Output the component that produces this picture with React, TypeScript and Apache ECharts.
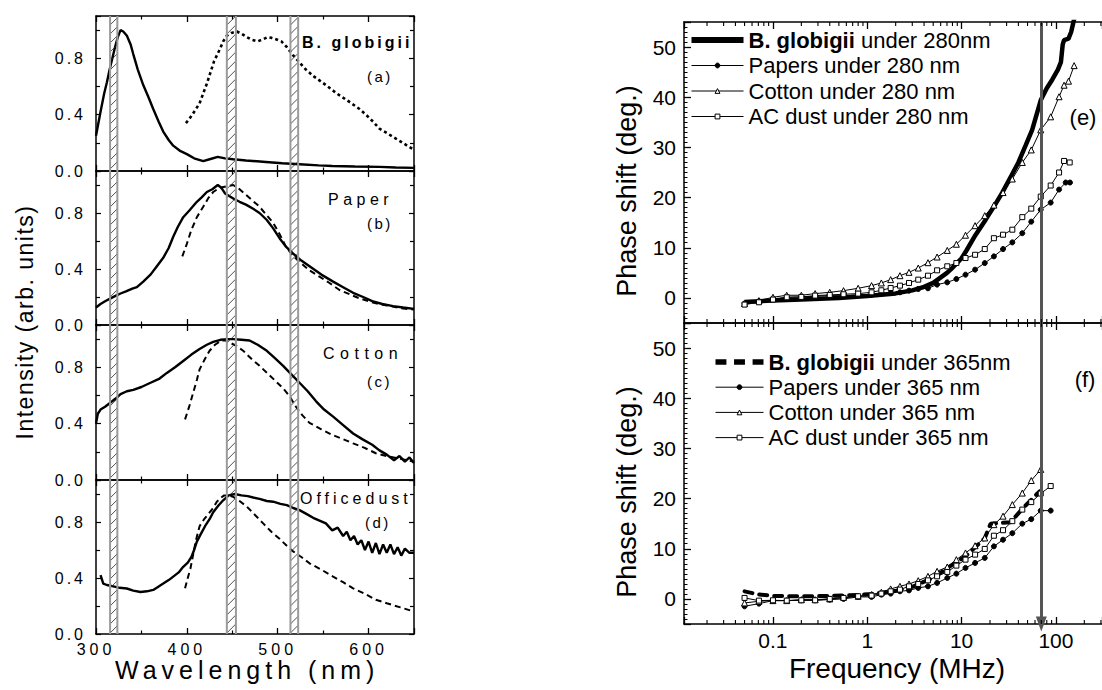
import React, { useEffect, useRef } from 'react';
import * as echarts from 'echarts';

const FONT = 'Arial, "Liberation Sans", Helvetica, sans-serif';

// ---------- Left: emission spectra (wavelength nm, normalized intensity) ----------
const bgSolidWl = [300, 305, 309, 312, 315, 318, 321, 324, 327, 330, 334, 338, 341, 346, 352, 358, 363, 369, 374, 380, 385, 392, 400, 408, 418, 426, 434, 442, 451, 465, 487, 505, 524, 545, 560, 585, 612, 630, 650];
const bgSolidI = [0.25, 0.42, 0.55, 0.63, 0.72, 0.8, 0.88, 0.95, 1.0, 0.99, 0.96, 0.9, 0.83, 0.72, 0.61, 0.52, 0.44, 0.35, 0.28, 0.22, 0.18, 0.145, 0.12, 0.09, 0.07, 0.085, 0.1, 0.09, 0.083, 0.075, 0.064, 0.055, 0.048, 0.04, 0.036, 0.032, 0.029, 0.025, 0.022];
const bgDashWl = [399, 405, 410, 414, 418, 422, 425, 430, 436, 440, 444, 449, 455, 460, 466, 472, 478, 484, 489, 493, 498, 504, 510, 517, 524, 531, 540, 553, 565, 579, 590, 597, 605, 612, 620, 630, 640, 650];
const bgDashI = [0.34, 0.39, 0.44, 0.48, 0.55, 0.62, 0.68, 0.78, 0.86, 0.92, 0.96, 0.98, 0.99, 0.975, 0.95, 0.93, 0.92, 0.935, 0.95, 0.945, 0.935, 0.92, 0.88, 0.82, 0.77, 0.72, 0.67, 0.61, 0.55, 0.49, 0.44, 0.4, 0.35, 0.3, 0.27, 0.23, 0.19, 0.15];

const paperSolidWl = [300, 305, 310, 316, 322, 327, 333, 340, 345, 352, 360, 367, 374, 380, 385, 390, 396, 403, 411, 416, 422, 428, 434, 438, 442, 447, 452, 458, 465, 473, 480, 488, 495, 502, 509, 517, 526, 535, 548, 561, 572, 583, 594, 604, 615, 627, 638, 650];
const paperSolidI = [0.125, 0.15, 0.17, 0.19, 0.21, 0.225, 0.24, 0.26, 0.27, 0.31, 0.36, 0.42, 0.48, 0.55, 0.63, 0.7, 0.77, 0.82, 0.88, 0.91, 0.95, 0.97, 1.0, 0.98, 0.94, 0.92, 0.9, 0.88, 0.86, 0.83, 0.8, 0.75, 0.69, 0.62, 0.56, 0.51, 0.46, 0.42, 0.36, 0.31, 0.27, 0.23, 0.2, 0.17, 0.15, 0.135, 0.125, 0.115];
const paperDashWl = [395, 400, 405, 411, 418, 424, 429, 436, 443, 451, 458, 465, 472, 480, 487, 495, 502, 509, 516, 524, 535, 546, 557, 568, 579, 590, 600, 608, 620, 635, 650];
const paperDashI = [0.49, 0.58, 0.68, 0.77, 0.845, 0.91, 0.95, 0.98, 0.99, 1.0, 0.97, 0.93, 0.89, 0.845, 0.79, 0.73, 0.65, 0.56, 0.5, 0.45, 0.39, 0.345, 0.3, 0.25, 0.22, 0.19, 0.17, 0.155, 0.14, 0.12, 0.11];

const cottonSolidWl = [300, 302, 305, 310, 316, 322, 327, 334, 341, 350, 360, 370, 378, 387, 396, 405, 414, 422, 429, 437, 445, 451, 460, 469, 478, 488, 496, 506, 515, 524, 533, 542, 551, 561, 572, 583, 593, 604, 612, 620, 628, 634, 640, 645, 650];
const cottonSolidI = [0.4, 0.47, 0.5, 0.52, 0.55, 0.58, 0.61, 0.63, 0.64, 0.66, 0.69, 0.72, 0.76, 0.8, 0.845, 0.89, 0.93, 0.96, 0.98, 0.995, 1.0, 1.0, 0.995, 0.99, 0.96, 0.917, 0.87, 0.81, 0.75, 0.69, 0.63, 0.56, 0.5, 0.45, 0.39, 0.33, 0.29, 0.25, 0.21, 0.18, 0.14, 0.17, 0.13, 0.16, 0.12];
const cottonDashWl = [398, 403, 407, 411, 414, 420, 425, 431, 438, 443, 447, 455, 462, 471, 480, 489, 498, 506, 513, 520, 527, 535, 548, 560, 572, 583, 595, 608, 620, 635, 650];
const cottonDashI = [0.43, 0.53, 0.62, 0.71, 0.785, 0.86, 0.917, 0.96, 0.99, 0.99, 0.976, 0.95, 0.917, 0.86, 0.81, 0.755, 0.7, 0.65, 0.595, 0.52, 0.46, 0.405, 0.36, 0.32, 0.29, 0.26, 0.23, 0.19, 0.17, 0.15, 0.13];

const dustSolidWl = [305, 308, 312, 319, 326, 334, 341, 349, 356, 363, 369, 374, 380, 385, 391, 396, 401, 405, 408, 411, 415, 420, 425, 429, 435, 440, 446, 453, 460, 467, 473, 480, 488, 495, 503, 510, 517, 524, 531, 539, 546, 553, 560, 566, 572, 576, 580, 584, 588, 592, 596, 600, 604, 608, 612, 616, 620, 624, 628, 632, 636, 640, 645, 650];
const dustSolidI = [0.42, 0.36, 0.35, 0.34, 0.33, 0.325, 0.31, 0.3, 0.305, 0.315, 0.34, 0.36, 0.385, 0.41, 0.44, 0.48, 0.51, 0.55, 0.6, 0.66, 0.71, 0.77, 0.82, 0.87, 0.92, 0.955, 0.99, 1.0, 0.99, 0.985, 0.975, 0.965, 0.95, 0.945, 0.93, 0.92, 0.9, 0.885, 0.86, 0.83, 0.81, 0.79, 0.74, 0.76, 0.7, 0.73, 0.67, 0.7, 0.64, 0.67, 0.6, 0.66, 0.58, 0.65, 0.57, 0.64, 0.58, 0.64, 0.57, 0.62, 0.56, 0.61, 0.58, 0.58];
const dustDashWl = [398, 401, 404, 407, 410, 414, 419, 424, 429, 433, 437, 441, 446, 451, 458, 466, 475, 484, 493, 502, 510, 517, 526, 535, 548, 561, 572, 583, 595, 608, 620, 635, 650];
const dustDashI = [0.326, 0.4, 0.47, 0.57, 0.67, 0.77, 0.82, 0.86, 0.9, 0.945, 0.97, 0.99, 0.99, 0.98, 0.95, 0.91, 0.85, 0.79, 0.73, 0.68, 0.63, 0.59, 0.55, 0.505, 0.46, 0.41, 0.37, 0.326, 0.29, 0.245, 0.22, 0.19, 0.16];

// hatched wavelength bands [from, to] nm
const bandStart = [315.5, 444, 514];
const bandEnd = [323.5, 454, 522.5];

const panelNames = ['B. globigii', 'Paper', 'Cotton', 'Officedust'];
const panelTags = ['(a)', '(b)', '(c)', '(d)'];

// ---------- Right: phase shift vs frequency ----------
const freqA = [0.05, 0.071, 0.1, 0.14, 0.2, 0.28, 0.4, 0.56, 0.8, 1.11, 1.41, 1.77, 2.22, 2.77, 3.47, 4.4, 5.5, 7.05, 8.8, 11, 13.9, 17.6, 22, 27.5, 34.5, 44, 54.8, 69];

const bg280Freq = [0.05, 0.1, 0.2, 0.5, 1, 2, 3, 4, 5, 7, 8, 10, 11.3, 14, 18, 22, 27, 34, 40, 48, 56, 69, 80, 92, 105, 113, 118, 122, 136, 145, 158];
const bg280 = [-0.8, -0.5, -0.3, 0, 0.4, 0.9, 1.5, 2.2, 3.0, 5.0, 6.0, 7.9, 9.5, 12.5, 15.6, 18.2, 21, 24.5, 27, 30.5, 33.5, 39.4, 41.8, 43.6, 45.5, 47, 50.5, 51.4, 51.7, 53, 56];
const papers280Freq = [...freqA, 88, 108, 127, 141];
const papers280 = [-1.13, -0.67, -0.2, 0.13, 0.2, 0.33, 0.46, 0.46, 0.6, 0.66, 0.86, 0.99, 1.12, 1.45, 1.78, 1.92, 2.65, 3.1, 3.77, 4.63, 5.63, 6.95, 8.28, 9.74, 11.07, 12.9, 15.2, 17.6, 19.0, 21.6, 23.0, 23.0];
const cotton280Freq = [...freqA, 88, 108, 122, 136, 156];
const cotton280 = [-1.13, -0.54, 0.13, 0.53, 0.53, 0.86, 1.12, 1.45, 1.92, 2.45, 2.98, 3.64, 4.43, 5.1, 5.96, 7.02, 8.15, 9.47, 10.7, 12.5, 14.4, 16.4, 18.5, 21.0, 23.7, 27.0, 29.5, 33.5, 36.1, 40.1, 42.4, 43.2, 46.3];
const ac280Freq = [...freqA, 88, 108, 122, 140];
const ac280 = [-1.33, -0.87, -0.33, 0.13, 0.2, 0.46, 0.6, 0.73, 0.86, 1.12, 1.52, 1.98, 2.45, 2.98, 3.64, 4.43, 5.5, 6.3, 6.95, 7.95, 8.6, 9.74, 11.9, 12.6, 13.6, 16.1, 17.8, 20.2, 22.4, 25.0, 27.3, 27.0];

const bg365Freq = [0.05, 0.07, 0.1, 0.2, 0.4, 0.8, 1.1, 2, 3, 5, 7, 11, 17.6, 20.3, 33, 44.8, 62, 68];
const bg365 = [1.5, 0.9, 0.6, 0.5, 0.6, 0.8, 1.0, 1.6, 2.4, 4.2, 6.1, 8.5, 12.1, 15.0, 15.3, 18.1, 20.8, 21.5];
const papers365Freq = [...freqA, 88];
const papers365 = [-1.47, -0.94, -0.34, -0.34, -0.27, -0.27, -0.14, 0, 0.4, 0.4, 0.86, 1.06, 1.52, 1.71, 2.19, 2.51, 3.19, 4.18, 5.04, 6.18, 7.17, 8.17, 10.48, 11.8, 13.1, 15.0, 15.9, 17.6, 17.6];
const cotton365Freq = [...freqA];
const cotton365 = [-0.8, -0.47, -0.34, -0.34, -0.14, -0.14, 0, 0.33, 0.53, 0.86, 1.33, 1.99, 2.51, 2.98, 3.64, 4.5, 5.5, 6.37, 7.83, 9.16, 10.6, 12.15, 14.8, 16.5, 18.8, 21.1, 23.6, 25.8];
const ac365Freq = [...freqA, 88];
const ac365 = [0.2, -0.34, -0.27, -0.34, -0.27, -0.27, 0, 0.2, 0.53, 0.66, 1.06, 1.52, 1.86, 2.51, 2.98, 3.7, 4.5, 5.38, 6.64, 7.83, 8.83, 9.96, 12.6, 13.7, 15.5, 17.8, 19.3, 21.0, 22.5];

const arrowFreq = 70;
const logMinorTicks = [0.02, 0.03, 0.04, 0.05, 0.06, 0.07, 0.08, 0.09, 0.2, 0.3, 0.4, 0.5, 0.6, 0.7, 0.8, 0.9, 2, 3, 4, 5, 6, 7, 8, 9, 20, 30, 40, 50, 60, 70, 80, 90, 200, 300];

const zip = (xs: number[], ys: number[]) => xs.map((x, i) => [x, ys[i]]);

// letter spacing used by the left (spectra) figure's lettering
const LS: Record<string, number> = {
  '0.0': 3, '0.4': 3, '0.8': 3, '300': 4, '400': 4, '500': 4, '600': 4,
  'B. globigii': 3, 'Paper': 4.5, 'Cotton': 5.5, 'Officedust': 4,
  '(a)': 2.5, '(b)': 2.5, '(c)': 2.5, '(d)': 2.5,
  'Wavelength (nm)': 5, 'Intensity (arb. units)': 1.5,
};

function applySpacing(el: HTMLElement) {
  el.querySelectorAll('text').forEach((t) => {
    const s = t.textContent || '';
    if (LS[s] != null) t.setAttribute('letter-spacing', String(LS[s]));
  });
}

function txt(text: string, x: number, y: number, size: number, opts: any = {}) {
  return {
    type: 'text',
    x, y,
    rotation: opts.rotation || 0,
    silent: true,
    style: {
      text,
      x: 0, y: 0,
      fill: '#000',
      fontSize: size,
      fontFamily: FONT,
      fontWeight: opts.bold ? 'bold' : 'normal',
      align: opts.align || 'left',
      textAlign: opts.align || 'left',
      verticalAlign: 'middle',
      textVerticalAlign: 'middle',
    },
  };
}

function leftOption() {
  const panels = [
    { top: 16, h: 155 },
    { top: 171, h: 154 },
    { top: 325, h: 155 },
    { top: 480, h: 154 },
  ];
  const solids = [zip(bgSolidWl, bgSolidI), zip(paperSolidWl, paperSolidI), zip(cottonSolidWl, cottonSolidI), zip(dustSolidWl, dustSolidI)];
  const dashes = [zip(bgDashWl, bgDashI), zip(paperDashWl, paperDashI), zip(cottonDashWl, cottonDashI), zip(dustDashWl, dustDashI)];
  const bands = bandStart.map((s, i) => [s, bandEnd[i]]);
  const axisLine = { show: true, onZero: false, lineStyle: { color: '#000', width: 1.5 } };
  const grid: any[] = [];
  const xAxis: any[] = [];
  const yAxis: any[] = [];
  const series: any[] = [];
  panels.forEach((p, i) => {
    grid.push({ left: 96, width: 318, top: p.top, height: p.h, outerBoundsMode: 'none' });
    ['bottom', 'top'].forEach((pos) => {
      xAxis.push({
        gridIndex: i, type: 'value', position: pos, min: 300, max: 650, interval: 100,
        axisLine, splitLine: { show: false },
        axisTick: { show: true, inside: true, length: 6, lineStyle: { color: '#000', width: 1.3 } },
        minorTick: { show: true, splitNumber: 2, length: 3.5, lineStyle: { color: '#000', width: 1.2 } },
        minorSplitLine: { show: false },
        axisLabel: pos === 'bottom' && i === 3 ? {
          show: true, color: '#000', fontSize: 16, fontFamily: FONT, margin: 7,
          formatter: (v: number) => (v % 100 === 0 && v <= 600 ? String(v) : ''),
        } : { show: false },
      });
    });
    ['left', 'right'].forEach((pos) => {
      yAxis.push({
        gridIndex: i, type: 'value', position: pos, min: 0, max: 1.1, interval: 0.4,
        axisLine, splitLine: { show: false },
        axisTick: { show: true, inside: true, length: 5, lineStyle: { color: '#000', width: 1.2 } },
        minorTick: { show: true, splitNumber: 2, length: 4, lineStyle: { color: '#000', width: 1.2 } },
        minorSplitLine: { show: false },
        axisLabel: pos === 'left' ? {
          show: true, color: '#000', fontSize: 16, fontFamily: FONT, margin: 10,
          formatter: (v: number) => {
            const r = Math.round(v * 10);
            return r === 0 || r === 4 || r === 8 ? (r / 10).toFixed(1) : '';
          },
        } : { show: false },
      });
    });
    series.push({
      type: 'line', xAxisIndex: 2 * i, yAxisIndex: 2 * i, data: solids[i], showSymbol: false, symbol: 'none',
      lineStyle: { color: '#000', width: 2.4 }, itemStyle: { color: '#000' }, z: 3, silent: true,
    });
    series.push({
      type: 'line', xAxisIndex: 2 * i, yAxisIndex: 2 * i, data: dashes[i], showSymbol: false, symbol: 'none',
      lineStyle: { color: '#000', width: i === 0 ? 2.6 : 2.0, type: i === 0 ? [3, 3] : [6, 4] }, itemStyle: { color: '#000' }, z: 3, silent: true,
    });
    series.push({
      type: 'custom', xAxisIndex: 2 * i, yAxisIndex: 2 * i, data: bands, clip: false, silent: true, z: 4,
      encode: { x: [0, 1] },
      renderItem: (params: any, api: any) => {
        const a = api.coord([api.value(0), 1.1]);
        const b = api.coord([api.value(1), 0]);
        const left = a[0], right = b[0], top = a[1], bottom = b[1];
        const w = right - left;
        const children: any[] = [];
        for (let y = top - w; y < bottom + w; y += 9) {
          let xa = left, ya = y + w, xb = right, yb = y;
          if (ya > bottom) { xa = left + (ya - bottom); ya = bottom; }
          if (yb < top) { xb = right - (top - yb); yb = top; }
          if (xa < xb) children.push({ type: 'line', shape: { x1: xa, y1: ya, x2: xb, y2: yb }, style: { stroke: '#222', lineWidth: 0.8 } });
        }
        children.push({ type: 'line', shape: { x1: left, y1: top, x2: left, y2: bottom }, style: { stroke: '#9a9a9a', lineWidth: 2 } });
        children.push({ type: 'line', shape: { x1: right, y1: top, x2: right, y2: bottom }, style: { stroke: '#9a9a9a', lineWidth: 2 } });
        return { type: 'group', children };
      },
    });
  });
  const graphic = [
    txt(panelNames[0], 302, 42, 16, { bold: true }),
    txt(panelTags[0], 367, 76, 15),
    txt(panelNames[1], 328, 199, 16),
    txt(panelTags[1], 367, 223, 15),
    txt(panelNames[2], 323, 353, 16),
    txt(panelTags[2], 367, 381, 15),
    txt(panelNames[3], 300, 498, 16),
    txt(panelTags[3], 365, 522, 15),
    txt('Wavelength (nm)', 115, 670, 25),
    txt('Intensity (arb. units)', 25, 322, 23, { rotation: Math.PI / 2, align: 'center' }),
  ];
  return { animation: false, grid, xAxis, yAxis, series, graphic };
}

function rightOption() {
  const XMIN = 0.0114, XMAX = 308;
  const grids = [{ top: 22, h: 301 }, { top: 323, h: 301 }];
  const axisLine = { show: true, onZero: false, lineStyle: { color: '#000', width: 1.5 } };
  const grid: any[] = [];
  const xAxis: any[] = [];
  const yAxis: any[] = [];
  grids.forEach((g, i) => {
    grid.push({ left: 124, width: 418, top: g.top, height: g.h, outerBoundsMode: 'none' });
    ['bottom', 'top'].forEach((pos) => {
      xAxis.push({
        gridIndex: i, type: 'log', logBase: 10, position: pos, min: XMIN, max: XMAX,
        axisLine, splitLine: { show: false },
        axisTick: { show: true, inside: true, length: 7, lineStyle: { color: '#000', width: 1.3 } },
        axisLabel: pos === 'bottom' && i === 1 ? {
          show: true, color: '#000', fontSize: 21, fontFamily: FONT, margin: 6,
          formatter: (v: number) => {
            const l = Math.log10(v);
            if (Math.abs(l - Math.round(l)) > 1e-6 || v < 0.09 || v > 101) return '';
            return String(Number(v.toPrecision(3)));
          },
        } : { show: false },
      });
    });
    yAxis.push({
      gridIndex: i, type: 'value', position: 'left', min: -5, max: 55, splitNumber: 6,
      axisLine, splitLine: { show: false },
      axisTick: { show: true, inside: true, length: 7, lineStyle: { color: '#000', width: 1.3 } },
      minorTick: { show: true, splitNumber: 10, length: 3.5, lineStyle: { color: '#000', width: 1 } },
      minorSplitLine: { show: false },
      axisLabel: {
        show: true, color: '#000', fontSize: 21, fontFamily: FONT, margin: 8,
        formatter: (v: number) => (v < -1 || v > 51 ? '' : String(v)),
      },
    });
  });

  const thin = (name: string, i: number, data: any[], symbol: string, filled: boolean, size: number) => ({
    name, type: 'line', xAxisIndex: 2 * i, yAxisIndex: i, data, symbol, symbolSize: size, showSymbol: true,
    lineStyle: { color: '#000', width: 1 },
    itemStyle: { color: filled ? '#000' : '#fff', borderColor: '#000', borderWidth: 1 },
    z: 3, silent: true,
  });
  const minorTickSeries = (i: number) => ({
    type: 'custom', xAxisIndex: 2 * i, yAxisIndex: i, data: logMinorTicks.map((v) => [v, 0]), silent: true, clip: false, z: 5,
    encode: { x: 0, y: 1 },
    renderItem: (params: any, api: any) => {
      const p = api.coord([api.value(0), 0]);
      const cs = params.coordSys;
      const bot = cs.y + cs.height;
      return {
        type: 'group', children: [
          { type: 'line', shape: { x1: p[0], y1: bot, x2: p[0], y2: bot - 4 }, style: { stroke: '#000', lineWidth: 1.1 } },
          { type: 'line', shape: { x1: p[0], y1: cs.y, x2: p[0], y2: cs.y + 4 }, style: { stroke: '#000', lineWidth: 1.1 } },
        ],
      };
    },
  });

  const n280 = ['B. globigii under 280nm', 'Papers under 280 nm', 'Cotton under 280 nm', 'AC dust under 280 nm'];
  const n365 = ['B. globigii under 365nm', 'Papers under 365 nm', 'Cotton under 365 nm', 'AC dust under 365 nm'];

  const papersTop: any = thin(n280[1], 0, zip(papers280Freq, papers280), 'circle', true, 5);
  papersTop.markLine = {
    silent: true, symbol: ['none', 'none'], label: { show: false },
    lineStyle: { color: '#555', width: 3, type: 'solid' }, emphasis: { disabled: true },
    data: [{ xAxis: arrowFreq }],
  };
  const papersBot: any = thin(n365[1], 1, zip(papers365Freq, papers365), 'circle', true, 5);
  papersBot.markLine = {
    silent: true, symbol: ['triangle', 'none'], symbolSize: [11, 15], label: { show: false },
    lineStyle: { color: '#555', width: 3, type: 'solid' }, emphasis: { disabled: true },
    data: [{ xAxis: arrowFreq }],
  };

  const series: any[] = [
    {
      name: n280[0], type: 'line', xAxisIndex: 0, yAxisIndex: 0, data: zip(bg280Freq, bg280), symbol: 'none', showSymbol: false,
      lineStyle: { color: '#000', width: 4.5 }, itemStyle: { color: '#000' }, z: 2, silent: true,
    },
    papersTop,
    thin(n280[2], 0, zip(cotton280Freq, cotton280), 'triangle', false, 6),
    thin(n280[3], 0, zip(ac280Freq, ac280), 'rect', false, 5),
    {
      name: n365[0], type: 'line', xAxisIndex: 2, yAxisIndex: 1, data: zip(bg365Freq, bg365), symbol: 'none', showSymbol: false,
      lineStyle: { color: '#000', width: 4, type: [8, 7], cap: 'round' }, itemStyle: { color: '#000' }, z: 2, silent: true,
    },
    papersBot,
    thin(n365[2], 1, zip(cotton365Freq, cotton365), 'triangle', false, 6),
    thin(n365[3], 1, zip(ac365Freq, ac365), 'rect', false, 5),
    minorTickSeries(0),
    minorTickSeries(1),
  ];

  const legendText = {
    fontSize: 22, fontFamily: FONT, color: '#000', lineHeight: 22,
    rich: {
      b: { fontSize: 22, fontFamily: FONT, color: '#000', fontWeight: 'bold', lineHeight: 22 },
      n: { fontSize: 22, fontFamily: FONT, color: '#000', lineHeight: 22 },
    },
  };
  const fmt = (name: string) => {
    if (name.indexOf('B. globigii') === 0) return '{b|B. globigii}{n|' + name.slice('B. globigii'.length) + '}';
    return '{n|' + name + '}';
  };
  const legendLine = { width: 1, color: '#000' };
  const hollow = { color: '#fff', borderColor: '#000', borderWidth: 1 };
  const filledDot = { color: '#000', borderColor: '#000', borderWidth: 1 };
  const legend = [
    {
      data: [
        { name: n280[0], icon: 'rect', itemStyle: { color: '#000', borderWidth: 0 } },
        { name: n280[1], itemStyle: filledDot }, { name: n280[2], itemStyle: hollow }, { name: n280[3], itemStyle: hollow },
      ],
      left: 131, top: 29, orient: 'vertical', itemWidth: 52, itemHeight: 6, itemGap: 3.5, itemTextGap: 5,
      selectedMode: false, textStyle: legendText, formatter: fmt, padding: 0, lineStyle: legendLine,
    },
    {
      data: [
        { name: n365[0], icon: 'path://M0,0h10v5h-10z M17,0h10v5h-10z M34,0h10v5h-10z', itemStyle: { color: '#000', borderWidth: 0 } },
        { name: n365[1], itemStyle: filledDot }, { name: n365[2], itemStyle: hollow }, { name: n365[3], itemStyle: hollow },
      ],
      left: 155, top: 351, orient: 'vertical', itemWidth: 48, itemHeight: 6, itemGap: 3.2, itemTextGap: 8,
      selectedMode: false, textStyle: legendText, formatter: fmt, padding: 0, lineStyle: legendLine,
    },
  ];

  const graphic = [
    txt('(e)', 523, 117, 22, { align: 'center' }),
    txt('(f)', 525, 379, 22, { align: 'center' }),
    txt('Phase shift (deg.)', 67, 191, 27, { rotation: Math.PI / 2, align: 'center' }),
    txt('Phase shift (deg.)', 67, 492, 27, { rotation: Math.PI / 2, align: 'center' }),
    txt('Frequency (MHz)', 337, 668, 28, { align: 'center' }),
  ];
  return { animation: false, grid, xAxis, yAxis, series, legend, graphic };
}

export default function App() {
  const leftRef = useRef<HTMLDivElement>(null);
  const rightRef = useRef<HTMLDivElement>(null);
  useEffect(() => {
    const l = echarts.init(leftRef.current!, undefined, { renderer: 'svg' });
    const r = echarts.init(rightRef.current!, undefined, { renderer: 'svg' });
    l.setOption(leftOption() as any);
    r.setOption(rightOption() as any);
    const fix = () => leftRef.current && applySpacing(leftRef.current);
    fix();
    l.on('finished', fix);
    const t1 = setTimeout(fix, 50);
    const t2 = setTimeout(fix, 300);
    return () => {
      clearTimeout(t1);
      clearTimeout(t2);
      l.dispose();
      r.dispose();
    };
  }, []);
  return (
    <div style={{ position: 'absolute', left: 0, top: 0, width: 1102, height: 690, background: '#fff', overflow: 'hidden' }}>
      <div ref={leftRef} style={{ position: 'absolute', left: 0, top: 0, width: 560, height: 690 }} />
      <div ref={rightRef} style={{ position: 'absolute', left: 560, top: 0, width: 542, height: 690 }} />
    </div>
  );
}
